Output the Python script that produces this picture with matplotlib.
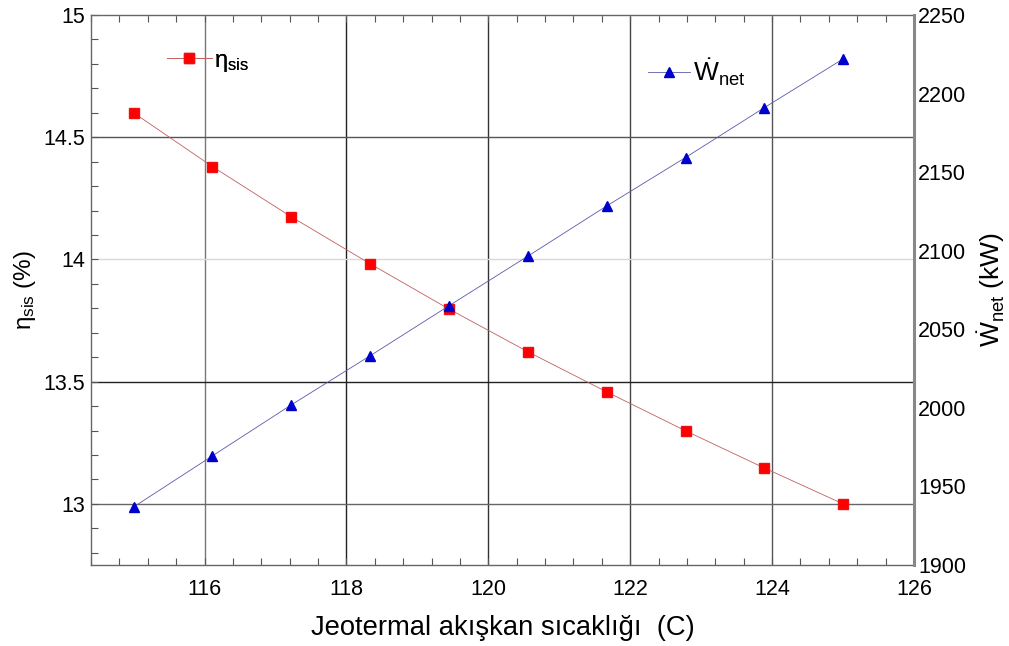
import matplotlib
matplotlib.use('Agg')
import matplotlib.pyplot as plt
from matplotlib.ticker import MultipleLocator
from matplotlib.lines import Line2D

plt.rcParams['font.family'] = ['Liberation Sans', 'DejaVu Sans']
plt.rcParams['mathtext.fontset'] = 'custom'
plt.rcParams['mathtext.rm'] = 'Liberation Sans'
plt.rcParams['mathtext.it'] = 'Liberation Sans'
plt.rcParams['mathtext.bf'] = 'Liberation Sans:bold'

# geothermal fluid temperature (C)
temperature = [115.0, 116.11, 117.22, 118.33, 119.44, 120.56, 121.67, 122.78, 123.89, 125.0]
# system efficiency (%)
eta_sis = [14.60, 14.38, 14.175, 13.983, 13.798, 13.622, 13.458, 13.299, 13.147, 13.0]
# net power (kW)
w_net = [1936.9, 1969.4, 2001.8, 2033.0, 2064.8, 2096.6, 2128.5, 2159.3, 2191.0, 2222.0]

x_ticks = [116, 118, 120, 122, 124, 126]
left_ticks = [13, 13.5, 14, 14.5, 15]
left_labels = ['13', '13.5', '14', '14.5', '15']
right_ticks = [1900, 1950, 2000, 2050, 2100, 2150, 2200, 2250]

fig = plt.figure(figsize=(10.09, 6.46), dpi=100)
ax = fig.add_axes([0.0902, 0.1254, 0.8156, 0.8514])
ax2 = ax.twinx()

ax.plot(temperature, eta_sis, color='#c06060', linewidth=0.6, marker='s',
        markersize=6.5, markerfacecolor='#ff0000', markeredgecolor='#ee1010', zorder=3)
ax2.plot(temperature, w_net, color='#5a5aa8', linewidth=0.6, marker='^',
         markersize=7, markerfacecolor='#0000cc', markeredgecolor='#0000cc', zorder=3)

ax.set_xlim(114.4, 126)
ax.set_ylim(12.75, 15)
ax2.set_ylim(1900, 2250)

ax.set_xticks(x_ticks)
ax.set_xticklabels([str(t) for t in x_ticks])
ax.xaxis.set_minor_locator(MultipleLocator(0.4))
ax.set_yticks(left_ticks)
ax.set_yticklabels(left_labels)
ax.yaxis.set_minor_locator(MultipleLocator(0.1))
ax2.set_yticks(right_ticks)

ax.tick_params(axis='both', which='both', direction='in', colors='#555555',
               labelcolor='black', labelsize=15.5, width=0.8)
ax.tick_params(axis='both', which='major', length=5)
ax.tick_params(axis='both', which='minor', length=5)
ax.tick_params(axis='x', which='both', top=True, pad=10)
ax.tick_params(axis='y', pad=4)
ax2.tick_params(axis='y', length=0, labelsize=15.5, pad=3)

# grid, with the uneven gray shades of the original
ax.grid(True, which='major', linewidth=1.0)
vcolors = ['#777777', '#222222', '#333333', '#444444', '#555555', '#ffffff']
for line, c in zip(ax.get_xgridlines(), vcolors):
    line.set_color(c)
hcolors = ['#666666', '#222222', '#d8d8d8', '#555555', '#ffffff']
for line, c in zip(ax.get_ygridlines(), hcolors):
    line.set_color(c)
ax.set_axisbelow(True)

for s in ['left', 'bottom', 'top']:
    ax.spines[s].set_color('#666666')
    ax.spines[s].set_linewidth(1.0)
ax.spines['right'].set_visible(False)
for s in ['left', 'bottom', 'top']:
    ax2.spines[s].set_visible(False)
ax2.spines['right'].set_color('#888888')
ax2.spines['right'].set_linewidth(2.2)

ax.set_xlabel('Jeotermal akışkan sıcaklığı  (C)', fontsize=19.7, labelpad=11)
ax.set_ylabel(r'$\mathregular{\eta_{sis}}$ (%)', fontsize=17.5, labelpad=4)
ax2.set_ylabel(r'$\mathregular{\dot{W}_{net}}$ (kW)', fontsize=19, labelpad=6)

h1 = Line2D([], [], color='#c06060', linewidth=0.6, marker='s', markersize=6.5,
            markerfacecolor='#ff0000', markeredgecolor='#ee1010')
h2 = Line2D([], [], color='#5a5aa8', linewidth=0.6, marker='^', markersize=7,
            markerfacecolor='#0000cc', markeredgecolor='#0000cc')
leg1 = ax.legend([h1], [r'$\mathregular{\eta_{sis}}$'], loc='center left',
                 bbox_to_anchor=(0.092, 0.915), frameon=False, fontsize=17,
                 handlelength=1.9, handletextpad=0.1, borderpad=0, borderaxespad=0)
ax.add_artist(leg1)
ax2.legend([h2], [r'$\mathregular{\dot{W}_{net}}$'], loc='center left',
           bbox_to_anchor=(0.677, 0.896), frameon=False, fontsize=19,
           handlelength=1.6, handletextpad=0.1, borderpad=0, borderaxespad=0)

fig.savefig('out.png', dpi=100)
